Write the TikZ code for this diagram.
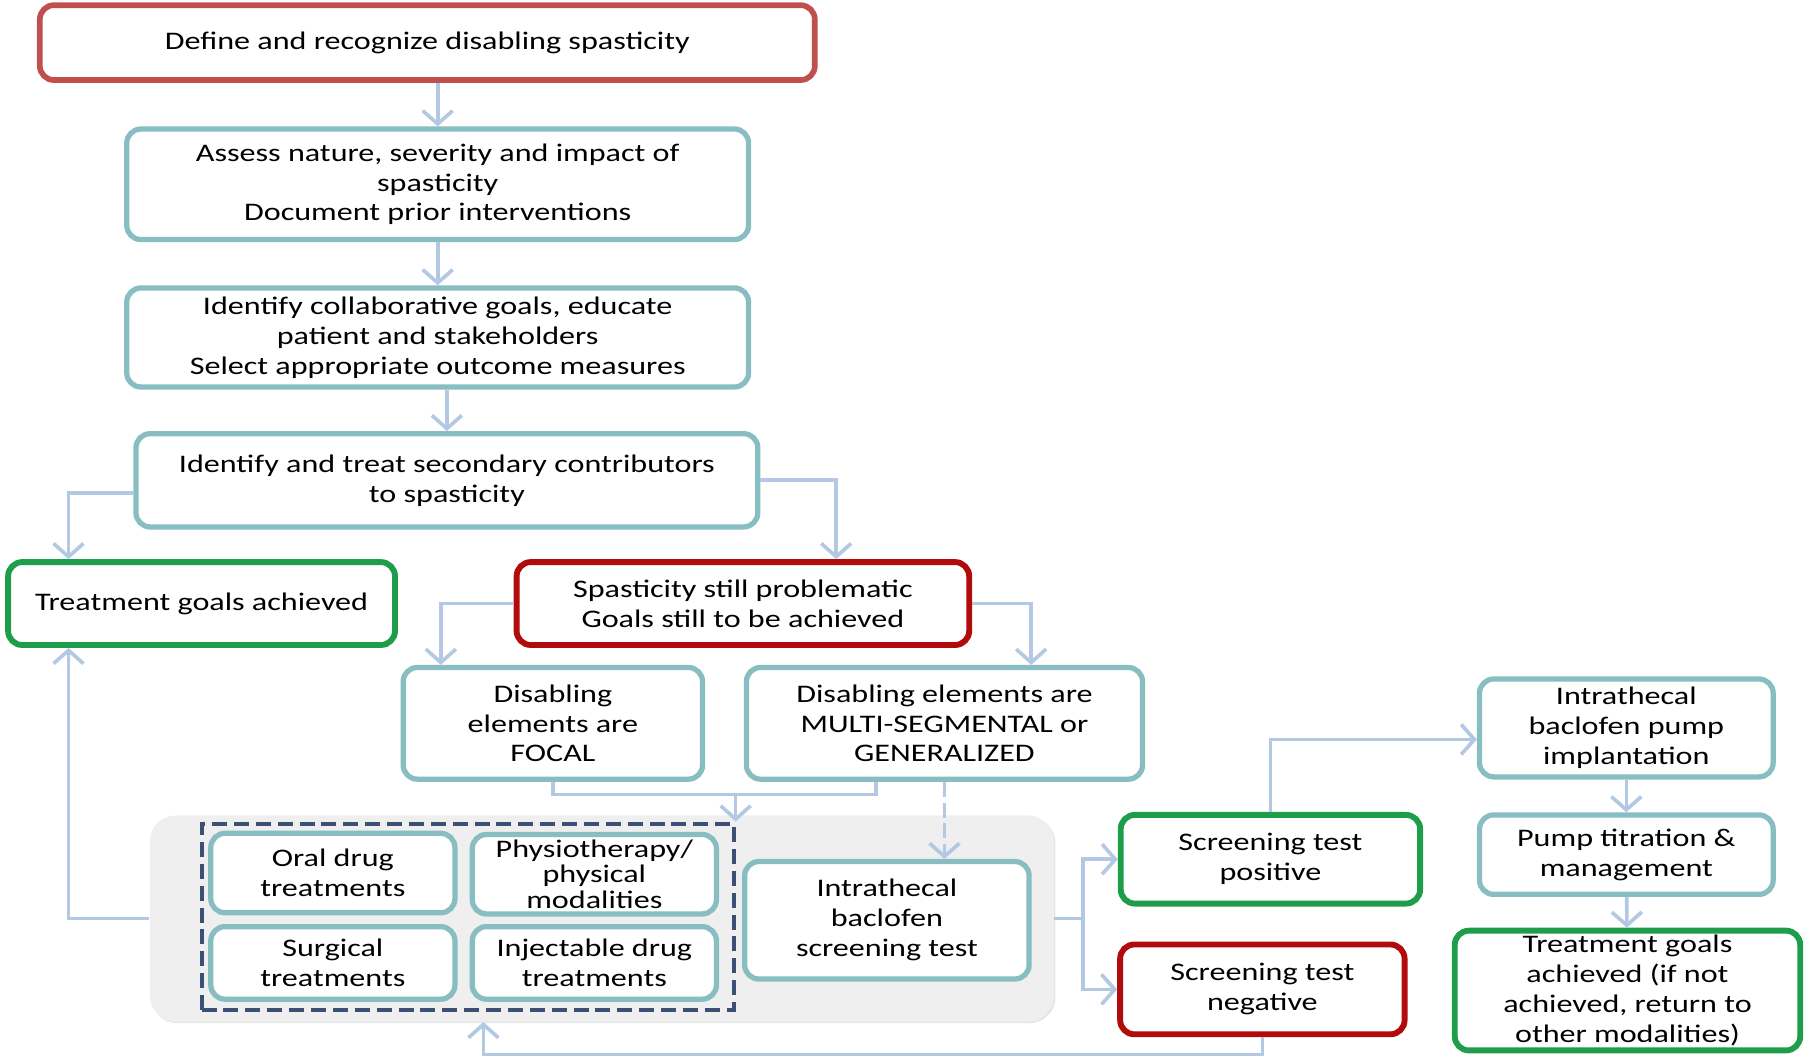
\documentclass[tikz,border=0pt]{standalone}
\usepackage{fontspec}
\setmainfont{Carlito}[FakeStretch=1.27]
\usepackage{tikz}
\usetikzlibrary{arrows.meta,positioning,shadows}

\definecolor{redtop}{HTML}{C0504D}
\definecolor{darkred}{HTML}{B20B0B}
\definecolor{goodgreen}{HTML}{1E9E4A}
\definecolor{tealline}{HTML}{88BDC1}
\definecolor{arrowline}{HTML}{B3C8E2}
\definecolor{dashline}{HTML}{3C4F75}
\definecolor{bggray}{HTML}{EFEFEF}

\tikzset{
  flow/.style={draw, rounded corners=7pt, fill=white, align=center, inner sep=2pt,
    font=\fontsize{12.5}{14.8}\selectfont,
    drop shadow={shadow xshift=0.8pt, shadow yshift=-0.8pt, opacity=0.25, fill=black!50}},
  tealbox/.style={flow, draw=tealline, line width=2.6pt},
  redbox/.style={flow, draw=redtop, line width=2.8pt},
  nobox/.style={flow, draw=darkred, line width=2.9pt},
  yesbox/.style={flow, draw=goodgreen, line width=2.9pt},
  arr/.style={draw=arrowline, line width=1.8pt, -{Straight Barb[length=2.3mm,width=5.2mm]}},
  link/.style={draw=arrowline, line width=1.8pt},
}

\begin{document}
\begin{tikzpicture}[x=0.02cm, y=-0.02cm]
\useasboundingbox (0,0) rectangle (1568,916);

\node[redbox, minimum width=13.46cm, minimum height=1.3cm] (define) at (371,37) {Define and recognize disabling spasticity};
\node[tealbox, minimum width=10.8cm, minimum height=1.92cm] (assess) at (380,160) {Assess nature, severity and impact of\\spasticity\\Document prior interventions};
\node[tealbox, minimum width=10.8cm, minimum height=1.72cm] (goals) at (380,293) {Identify collaborative goals, educate\\patient and stakeholders\\Select appropriate outcome measures};
\node[tealbox, minimum width=10.8cm, minimum height=1.62cm] (treat) at (388,417) {Identify and treat secondary contributors\\to spasticity};
\node[yesbox, minimum width=6.72cm, minimum height=1.44cm] (done) at (175,524) {Treatment goals achieved};
\node[nobox, minimum width=7.86cm, minimum height=1.44cm] (still) at (645,524) {Spasticity still problematic\\Goals still to be achieved};
\node[tealbox, minimum width=5.2cm, minimum height=1.94cm] (focal) at (480,628) {Disabling\\elements are\\FOCAL};
\node[tealbox, minimum width=6.88cm, minimum height=1.94cm] (multi) at (820,628) {Disabling elements are\\MULTI-SEGMENTAL or\\GENERALIZED};

\node[fill=bggray, rounded corners=0.45cm, minimum width=15.7cm, minimum height=3.58cm,
  drop shadow={shadow xshift=0.8pt, shadow yshift=-0.8pt, opacity=0.2}] (bg) at (522.5,797.5) {};
\node[draw=dashline, line width=2pt, dash pattern=on 0.26cm off 0.12cm, minimum width=9.24cm, minimum height=3.24cm] (grp) at (406,796) {};

\node[tealbox, minimum width=4.24cm, minimum height=1.38cm] (oral) at (289,758) {Oral drug\\treatments};
\node[tealbox, minimum width=4.24cm, minimum height=1.38cm, font=\fontsize{12.5}{12.8}\selectfont] (physio) at (516,759) {Physiotherapy/\\physical\\modalities};
\node[tealbox, minimum width=4.24cm, minimum height=1.26cm] (surg) at (289,836) {Surgical\\treatments};
\node[tealbox, minimum width=4.24cm, minimum height=1.26cm] (inject) at (516,836) {Injectable drug\\treatments};
\node[tealbox, minimum width=4.94cm, minimum height=2.04cm] (itb) at (770,799) {Intrathecal\\baclofen\\screening test};

\node[yesbox, minimum width=5.2cm, minimum height=1.54cm] (pos) at (1103,746) {Screening test\\positive};
\node[nobox, minimum width=4.94cm, minimum height=1.56cm] (neg) at (1096,859) {Screening test\\negative};
\node[tealbox, minimum width=5.1cm, minimum height=1.7cm] (pump) at (1412,632) {Intrathecal\\baclofen pump\\implantation};
\node[tealbox, minimum width=5.1cm, minimum height=1.38cm] (titr) at (1412,742) {Pump titration \&\\management};
\node[yesbox, minimum width=6.0cm, minimum height=2.08cm] (final) at (1413,860) {Treatment goals\\achieved (if not\\achieved, return to\\other modalities)};

\draw[arr] (define.south -| assess.north) -- (assess.north);
\draw[arr] (assess) -- (goals);
\draw[arr] (goals.south -| treat.north) -- (treat.north);
\draw[arr] ([yshift=-0.22cm]treat.west) -| ([xshift=1.1cm]done.north west);
\draw[arr] (treat.east) -| ([xshift=-2.36cm]still.north east);
\draw[arr] (still.west) -| ([xshift=0.7cm]focal.north west);
\draw[arr] (still.east) -| ([xshift=-1.98cm]multi.north east);
\coordinate (mrg) at ([yshift=-0.22cm]focal.south);
\draw[link] (focal.south) -- (mrg) -| ([xshift=2.3cm]multi.south west);
\draw[arr] (mrg -| grp.north east) -- (grp.north east);
\draw[arr, dash pattern=on 0.26cm off 0.1cm] (multi.south) -- (multi.south |- itb.north);
\draw[arr] (bg.west) -| ([xshift=1.1cm]done.south west);
\draw[arr] (bg.east) -- ++(0.5cm,0) |- (pos.west);
\draw[arr] (bg.east) -- ++(0.5cm,0) |- (neg.west);
\draw[arr] (pos.north) |- ([yshift=-0.2cm]pump.west);
\draw[arr] (pump) -- (titr);
\draw[arr] (titr) -- (final);
\draw[arr] (neg.south) -- ++(0,-0.3cm) -| ([xshift=5.8cm]bg.south west);
\end{tikzpicture}
\end{document}
